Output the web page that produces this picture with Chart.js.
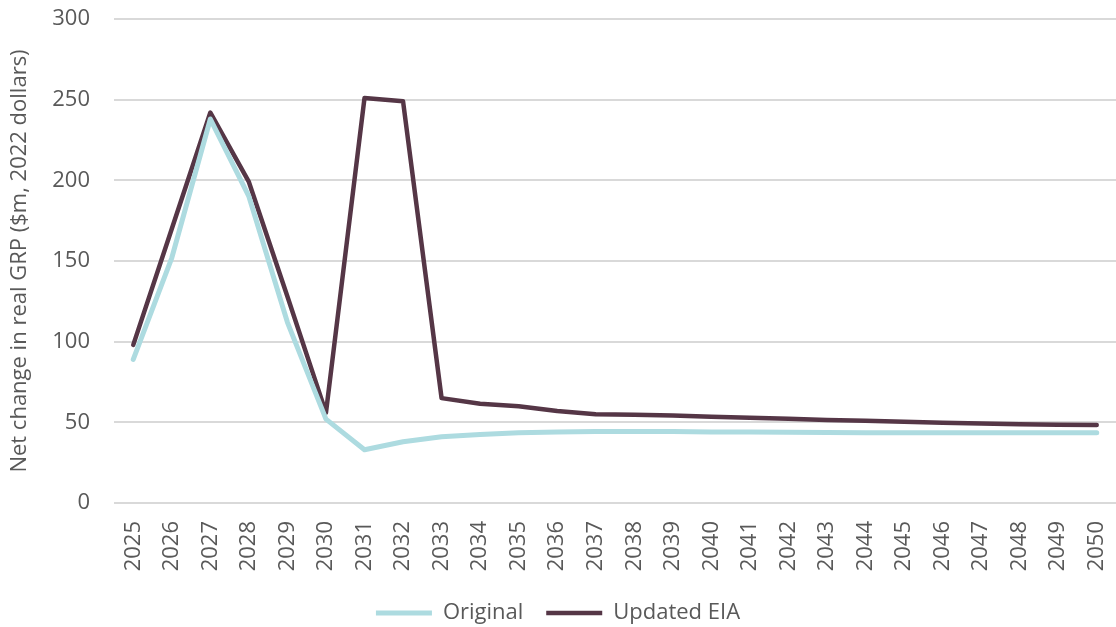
<!DOCTYPE html>
<html>
<head>
<meta charset="utf-8">
<script src="https://cdn.jsdelivr.net/npm/chart.js@4/dist/chart.umd.min.js"></script>
<style>
  html, body { margin: 0; padding: 0; background: #fff; }
  #wrap { width: 1116px; height: 627px; }
</style>
</head>
<body>
<div id="wrap"><canvas id="GraphGRP"></canvas></div>
<script>
const years = ['2025', '2026', '2027', '2028', '2029', '2030', '2031', '2032', '2033',
    '2034', '2035', '2036', '2037', '2038', '2039', '2040', '2041', '2042', '2043',
    '2044', '2045', '2046', '2047', '2048', '2049', '2050'];

const originalValues = [89, 152, 238, 190, 112, 52, 33, 38, 41,
    42.5, 43.5, 44, 44.3, 44.3, 44.3, 44, 44, 43.8, 43.7,
    43.6, 43.5, 43.5, 43.5, 43.5, 43.5, 43.5];

const updatedValues = [98, 170, 242, 199, 128, 56, 251, 249, 65,
    61.5, 60, 57, 55, 54.7, 54.2, 53.5, 52.8, 52.2, 51.5,
    51, 50.3, 49.8, 49.2, 48.8, 48.5, 48.3];

const yTicks = [0, 50, 100, 150, 200, 250, 300];

const textColor = '#595959';
const fontFamily = '"Open Sans", "Noto Sans", sans-serif';
const fontSize = 22;

const GraphGRPData = {
    labels: years,
    datasets: [{
        label: 'Original',
        data: originalValues,
        borderColor: '#addbe0',
        backgroundColor: '#addbe0',
        borderWidth: 5,
        pointRadius: 0,
        tension: 0,
        borderCapStyle: 'round',
        borderJoinStyle: 'round'
    }, {
        label: 'Updated EIA',
        data: updatedValues,
        borderColor: '#553646',
        backgroundColor: '#553646',
        borderWidth: 4.5,
        pointRadius: 0,
        tension: 0,
        borderCapStyle: 'round',
        borderJoinStyle: 'round'
    }]
};

const config = {
    type: 'line',
    data: GraphGRPData,
    options: {
        responsive: true,
        maintainAspectRatio: false,
        animation: false,
        layout: {
            // legend sits a bit lower than chart.js would put it
            padding: { top: 19, right: 0, left: 0, bottom: -7 }
        },
        scales: {
            x: {
                offset: true,
                grid: { display: false, drawTicks: false },
                border: { display: false },
                ticks: {
                    autoSkip: false,
                    minRotation: 90,
                    maxRotation: 90,
                    padding: 18,
                    color: textColor,
                    font: { family: fontFamily, size: fontSize }
                },
                afterFit: function (scale) {
                    // keep the plot area flush with the right edge like the original
                    scale.paddingLeft = 0;
                    scale.paddingRight = 0;
                    scale.height = 99;
                }
            },
            y: {
                min: 0,
                max: 300,
                afterBuildTicks: function (axis) {
                    axis.ticks = yTicks.map(v => ({ value: v }));
                },
                grid: { color: '#d9d9d9', lineWidth: 2, drawTicks: false },
                border: { display: false },
                ticks: {
                    padding: 24,
                    color: textColor,
                    font: { family: fontFamily, size: fontSize }
                },
                title: {
                    display: true,
                    text: 'Net change in real GRP ($m, 2022 dollars)',
                    color: textColor,
                    padding: { top: 7, bottom: 0 },
                    font: { family: fontFamily, size: fontSize }
                },
                afterFit: function (scale) {
                    scale.paddingTop = 0;
                    scale.paddingBottom = 0;
                    scale.width = 114;
                }
            }
        },
        plugins: {
            legend: {
                display: true,
                position: 'bottom',
                labels: {
                    usePointStyle: true,
                    pointStyle: 'line',
                    pointStyleWidth: 56,
                    padding: 0,
                    color: textColor,
                    font: { family: fontFamily, size: fontSize },
                    generateLabels: function (chart) {
                        const items = Chart.defaults.plugins.legend.labels.generateLabels(chart);
                        // small gap after the first entry
                        items[0].text = items[0].text + '\u00a0'.repeat(4);
                        return items;
                    }
                }
            },
            tooltip: { enabled: false }
        }
    }
};

const canvasElement = document.getElementById('GraphGRP');
const GraphGRP = new Chart(canvasElement, config);
</script>
</body>
</html>
